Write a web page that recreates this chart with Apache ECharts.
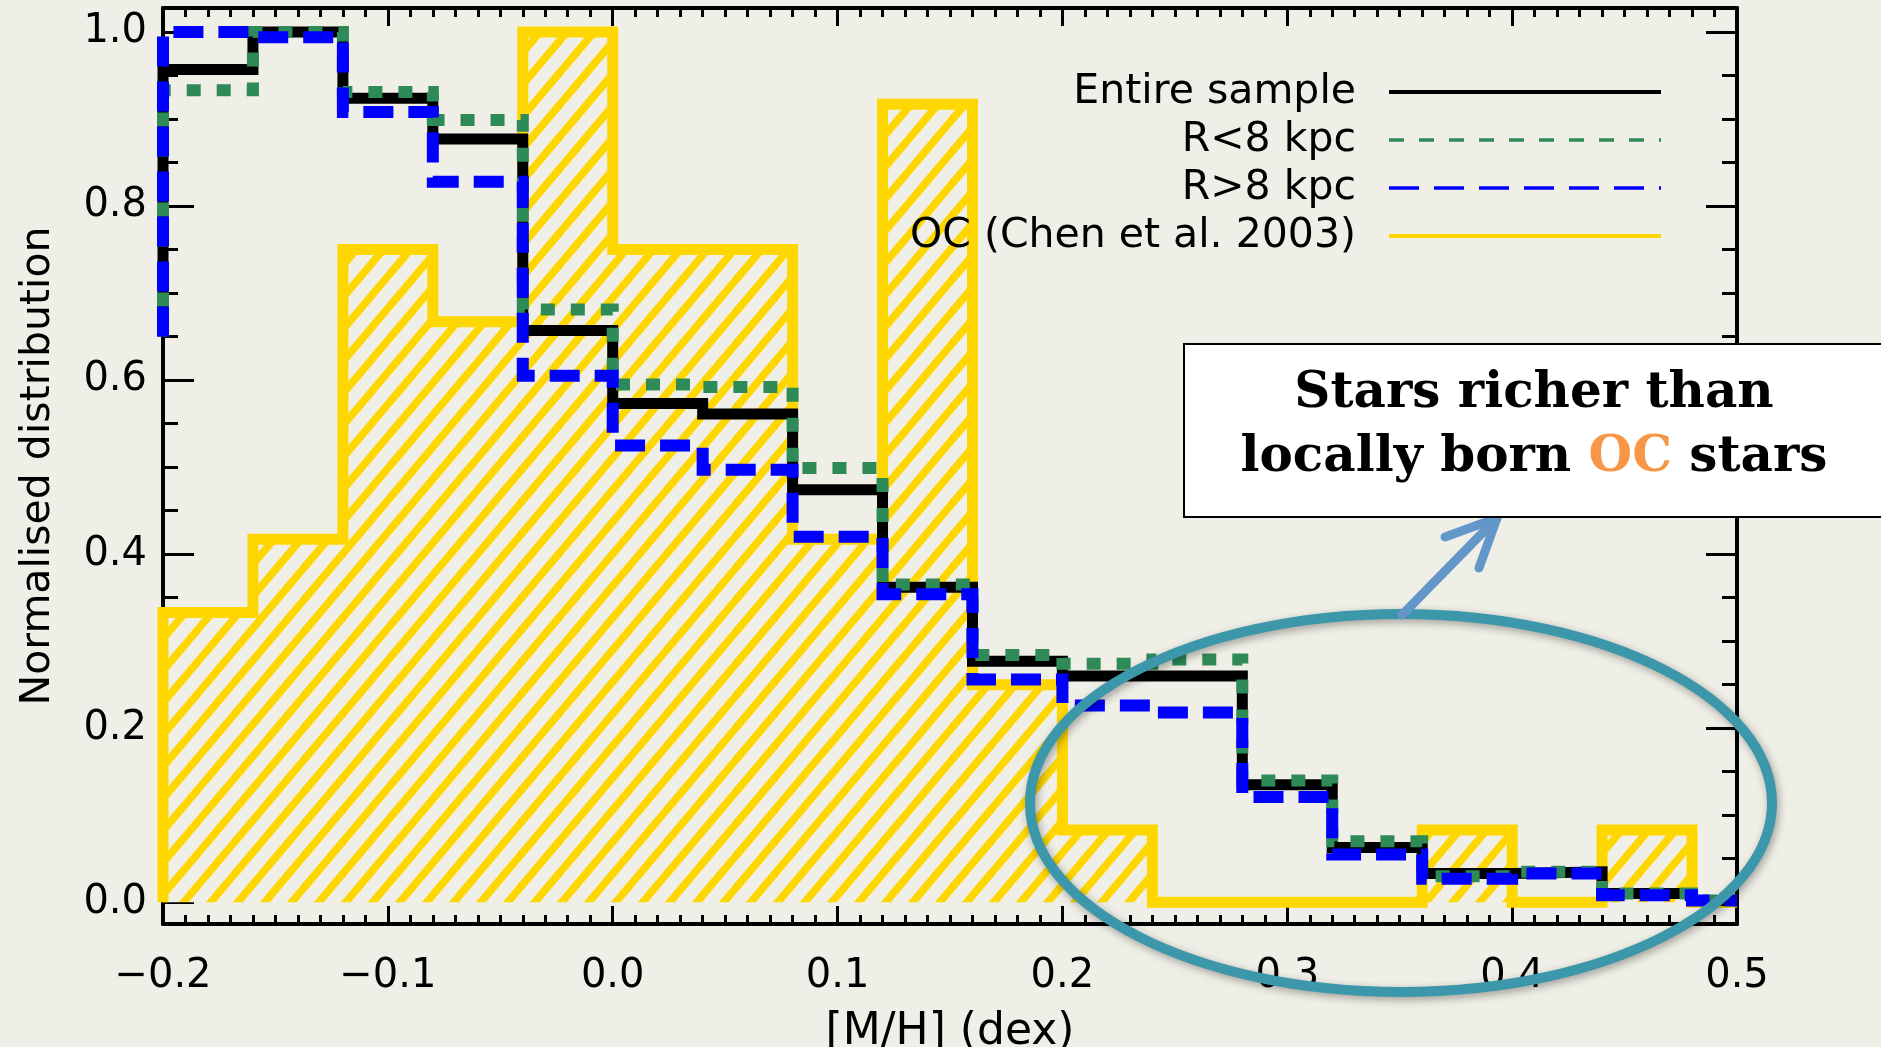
<!DOCTYPE html>
<html>
<head>
<meta charset="utf-8">
<script src="https://cdn.jsdelivr.net/npm/echarts@6/dist/echarts.min.js"></script>
<style>
  html, body { margin: 0; padding: 0; background: #f0efe7; }
  #chart { width: 1881px; height: 1047px; }
</style>
</head>
<body>
<div id="chart"></div>
<script>
// Metallicity bins: [M/H] edges (dex), 0.04 dex wide; the last bin is cut by the axis at 0.5
const binEdges = [-0.2, -0.16, -0.12, -0.08, -0.04, 0.0, 0.04, 0.08, 0.12, 0.16,
                  0.2, 0.24, 0.28, 0.32, 0.36, 0.40, 0.44, 0.48, 0.5];

// Normalised distributions per bin
const entireSample = [0.957, 1.0, 0.924, 0.877, 0.657, 0.573, 0.561, 0.474, 0.362, 0.277,
                      0.260, 0.260, 0.135, 0.063, 0.033, 0.035, 0.010, 0.002];
const innerDisc    = [0.933, 1.0, 0.931, 0.899, 0.681, 0.595, 0.592, 0.499, 0.365, 0.284,
                      0.274, 0.279, 0.140, 0.070, 0.030, 0.035, 0.010, 0.002];
const outerDisc    = [1.0, 0.994, 0.908, 0.828, 0.605, 0.525, 0.497, 0.420, 0.354, 0.256,
                      0.226, 0.218, 0.121, 0.055, 0.027, 0.033, 0.008, 0.002];
const openClusters = [0.333, 0.417, 0.75, 0.667, 1.0, 0.75, 0.75, 0.417, 0.917, 0.25,
                      0.083, 0.0, 0.0, 0.0, 0.083, 0.0, 0.083, 0.0];

// Value of the bin just below the plotted range (seen as the rise at the left edge)
const leadSample = 0.65;
const leadOC = 0.0;

// Tick values
const yMajorTicks = [0.0, 0.2, 0.4, 0.6, 0.8, 1.0];
const yMinorTicks = [0.05, 0.1, 0.15, 0.25, 0.3, 0.35, 0.45, 0.5, 0.55,
                     0.65, 0.7, 0.75, 0.85, 0.9, 0.95];

const legendNames = ['Entire sample', 'R<8 kpc', 'R>8 kpc', 'OC (Chen et al. 2003)'];

const BG = '#f0efe7';
const YELLOW = '#ffd700';
const GREEN = '#2e8b57';
const BLUE = '#0000ff';
const TICK_FONT = 'DejaVu Sans';

// Step-histogram points: one point per bin start, plus the closing edge
function histPoints(lead, values) {
  const pts = [[binEdges[0], lead]];
  values.forEach((v, i) => pts.push([binEdges[i], v]));
  pts.push([binEdges[binEdges.length - 1], values[values.length - 1]]);
  return pts;
}

// Diagonal hatch tile for the open-cluster histogram
function hatchTile() {
  const w = 27, h = 32;
  const c = document.createElement('canvas');
  c.width = w; c.height = h;
  const ctx = c.getContext('2d');
  ctx.fillStyle = BG;
  ctx.fillRect(0, 0, w, h);
  ctx.strokeStyle = YELLOW;
  ctx.lineWidth = 7.6;
  for (let k = -1; k <= 3; k++) {
    const cst = k * w;
    ctx.beginPath();
    ctx.moveTo(cst + w, -h);
    ctx.lineTo(cst - 2 * w, 2 * h);
    ctx.stroke();
  }
  return c;
}

function fmtTick(v) {
  let r = Math.round(v * 10) / 10;
  if (Math.abs(r) < 1e-9) r = 0;
  return r.toFixed(1).replace('-', '\u2212');
}

const axisLineStyle = { color: '#000', width: 4 };
const tickStyle = { color: '#000', width: 3 };

function xAxisDef(position, showLabel) {
  return {
    type: 'value', position: position, min: -0.2, max: 0.5, interval: 0.1,
    axisLine: { show: true, onZero: false, lineStyle: axisLineStyle },
    axisTick: { show: true, inside: true, length: 18, lineStyle: tickStyle },
    minorTick: { show: true, splitNumber: 10, length: 9, lineStyle: tickStyle },
    splitLine: { show: false },
    axisLabel: {
      show: showLabel, formatter: fmtTick, color: '#000',
      fontFamily: TICK_FONT, fontSize: 40, margin: 33
    },
    name: showLabel ? '[M/H] (dex)' : '',
    nameLocation: 'middle', nameGap: 87,
    nameTextStyle: { fontFamily: TICK_FONT, fontSize: 44, color: '#000' }
  };
}

function yAxisDef(position, ticks, len, showLine, showLabel) {
  return {
    type: 'value', position: position, min: -0.025, max: 1.0276,
    axisLine: { show: showLine, onZero: false, lineStyle: axisLineStyle },
    axisTick: { show: true, inside: true, length: len, lineStyle: tickStyle, customValues: ticks },
    minorTick: { show: false },
    splitLine: { show: false },
    axisLabel: {
      show: showLabel, customValues: ticks, formatter: fmtTick, color: '#000',
      fontFamily: TICK_FONT, fontSize: 40, margin: 16
    },
    name: showLabel ? 'Normalised distribution' : '',
    nameLocation: 'middle', nameGap: 104,
    nameTextStyle: { fontFamily: TICK_FONT, fontSize: 41, color: '#000' }
  };
}

function stepSeries(name, values, lead, color, type, width, z) {
  return {
    name: name, type: 'line', step: 'end', data: histPoints(lead, values),
    symbol: 'none', clip: false, z: z,
    lineStyle: { color: color, width: width, type: type, cap: 'butt', join: 'miter' },
    emphasis: { disabled: true }
  };
}

// Legend drawn as text + sample line, text right-aligned left of the line
const legendRows = [
  { color: '#000', width: 4, dash: null },
  { color: GREEN, width: 3.5, dash: [15, 15] },
  { color: BLUE, width: 3.5, dash: [30, 15] },
  { color: YELLOW, width: 4, dash: null }
];
const legendGraphics = [];
legendRows.forEach((row, i) => {
  const y = 92 + i * 48;
  legendGraphics.push({
    type: 'text', x: 1356, y: y, z: 50,
    style: { text: legendNames[i], fill: '#000', font: '41px "DejaVu Sans"',
             align: 'right', verticalAlign: 'middle' }
  });
  legendGraphics.push({
    type: 'line', z: 50,
    shape: { x1: 1389, y1: y, x2: 1661, y2: y },
    style: { stroke: row.color, lineWidth: row.width, lineDash: row.dash }
  });
});

const chart = echarts.init(document.getElementById('chart'), null, { renderer: 'canvas' });

chart.setOption({
  backgroundColor: BG,
  animation: false,
  grid: { left: 163, right: 144, top: 8, bottom: 123, containLabel: false, outerBoundsMode: 'none' },
  xAxis: [xAxisDef('bottom', true), xAxisDef('top', false)],
  yAxis: [
    yAxisDef('left', yMajorTicks, 31, true, true),
    yAxisDef('left', yMinorTicks, 15, false, false),
    yAxisDef('right', yMajorTicks, 31, true, false),
    yAxisDef('right', yMinorTicks, 15, false, false)
  ],
  series: [
    Object.assign(stepSeries(legendNames[3], openClusters, leadOC, YELLOW, 'solid', 11, 2), {
      areaStyle: { color: { image: hatchTile(), repeat: 'repeat' }, opacity: 1, origin: 0 }
    }),
    stepSeries(legendNames[0], entireSample, leadSample, '#000', 'solid', 11, 3),
    stepSeries(legendNames[1], innerDisc, leadSample, GREEN, [14, 16], 12, 4),
    stepSeries(legendNames[2], outerDisc, leadSample, BLUE, [30, 15], 12, 5)
  ],
  graphic: legendGraphics.concat([
    // annotation: ellipse around the metal-rich tail
    {
      type: 'ellipse', z: 100,
      shape: { cx: 1401, cy: 803, rx: 371, ry: 189 },
      style: { fill: 'none', stroke: '#3d97aa', lineWidth: 10,
               shadowBlur: 8, shadowColor: 'rgba(0,0,0,0.35)', shadowOffsetX: 2, shadowOffsetY: 3 }
    },
    // arrow towards the caption box
    {
      type: 'polyline', z: 101,
      shape: { points: [[1402, 615], [1497, 518]] },
      style: { stroke: '#6497c9', lineWidth: 9, lineCap: 'round', fill: 'none' }
    },
    {
      type: 'polyline', z: 101,
      shape: { points: [[1445, 537], [1497, 518], [1479, 568]] },
      style: { stroke: '#6497c9', lineWidth: 9, lineCap: 'round', lineJoin: 'round', fill: 'none' }
    },
    // caption box
    {
      type: 'rect', z: 102,
      shape: { x: 1184, y: 344, width: 700, height: 173 },
      style: { fill: '#ffffff', stroke: '#000', lineWidth: 2 }
    },
    {
      type: 'text', z: 103, x: 1534, y: 426,
      style: {
        text: '{b|Stars richer than}\n{b|locally born }{o|OC}{b| stars}',
        align: 'center', verticalAlign: 'middle',
        rich: {
          b: { font: 'bold 50px "DejaVu Serif"', fill: '#000', lineHeight: 64 },
          o: { font: 'bold 50px "DejaVu Serif"', fill: '#f79646', lineHeight: 64 }
        }
      }
    }
  ])
});
</script>
</body>
</html>
